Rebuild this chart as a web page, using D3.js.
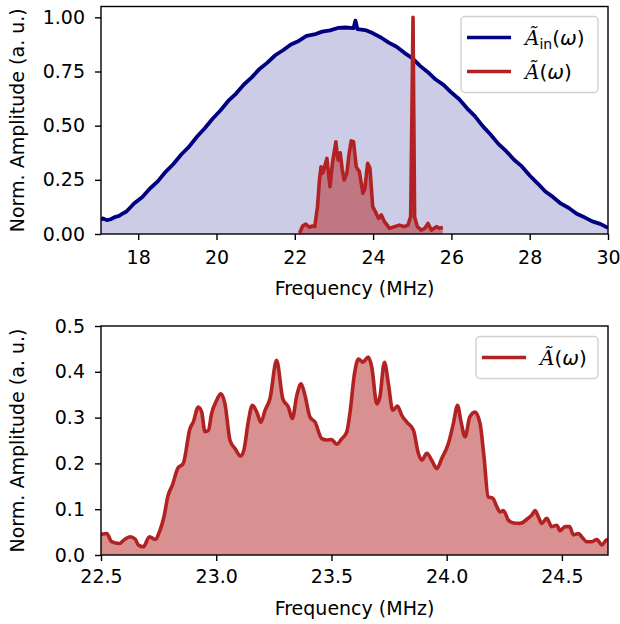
<!DOCTYPE html>
<html><head><meta charset="utf-8">
<script src="https://cdn.jsdelivr.net/npm/d3@7"></script>
<style>body{margin:0;background:#fff}svg{display:block}text{font-family:"DejaVu Sans",sans-serif;fill:#000}</style>
</head><body><svg id="c" width="620" height="624"></svg>
<script>
// ---- data ----
const inFreq = [17.05,17.1,17.2,17.3,17.4,17.5,17.6,17.7,17.9,18.1,18.3,18.5,18.7,18.9,19.1,19.3,19.5,19.7,19.9,20.1,20.3,20.5,20.7,20.9,21.1,21.3,21.5,21.7,21.9,22.1,22.3,22.5,22.7,22.9,23.1,23.3,23.5,23.55,23.6,23.8,24.0,24.2,24.4,24.6,24.8,25.0,25.2,25.4,25.6,25.8,26.0,26.2,26.4,26.6,26.8,27.0,27.2,27.4,27.6,27.8,28.0,28.2,28.4,28.6,28.8,29.0,29.2,29.4,29.6,29.8,30.0];
const inAmp  = [0.066,0.072,0.064,0.068,0.078,0.083,0.094,0.104,0.142,0.170,0.210,0.243,0.287,0.323,0.367,0.403,0.449,0.488,0.532,0.570,0.614,0.648,0.690,0.723,0.762,0.791,0.825,0.848,0.875,0.891,0.914,0.921,0.934,0.940,0.951,0.953,0.950,0.985,0.946,0.941,0.926,0.907,0.883,0.864,0.836,0.812,0.776,0.747,0.713,0.688,0.653,0.622,0.580,0.544,0.498,0.459,0.416,0.382,0.343,0.312,0.270,0.234,0.196,0.170,0.140,0.120,0.093,0.077,0.058,0.047,0.028];

const topRedFreq = [22.12,22.14,22.20,22.28,22.37,22.45,22.51,22.58,22.63,22.67,22.71,22.75,22.82,22.86,22.90,22.96,23.05,23.08,23.11,23.16,23.21,23.26,23.33,23.38,23.44,23.50,23.57,23.65,23.74,23.79,23.86,23.92,23.99,24.08,24.14,24.21,24.29,24.42,24.55,24.67,24.80,24.89,24.96,25.02,25.06,25.13,25.23,25.32,25.40,25.49,25.62,25.70,25.78];
const topRedAmp  = [0.004,0.011,0.037,0.046,0.031,0.037,0.034,0.126,0.250,0.310,0.280,0.303,0.349,0.280,0.218,0.326,0.426,0.370,0.341,0.375,0.300,0.249,0.280,0.360,0.430,0.426,0.310,0.287,0.188,0.210,0.326,0.303,0.126,0.095,0.072,0.088,0.057,0.026,0.034,0.041,0.034,0.041,0.080,1.000,0.080,0.034,0.018,0.026,0.049,0.018,0.034,0.026,0.031];

const redFreq = [22.48,22.50,22.525,22.546,22.58,22.60,22.626,22.648,22.662,22.684,22.71,22.734,22.756,22.773,22.79,22.81,22.833,22.857,22.886,22.90,22.922,22.937,22.951,22.966,22.98,23.002,23.02,23.038,23.06,23.082,23.106,23.12,23.14,23.157,23.176,23.194,23.212,23.233,23.262,23.289,23.313,23.33,23.35,23.368,23.385,23.407,23.429,23.458,23.48,23.50,23.523,23.545,23.566,23.58,23.60,23.617,23.636,23.66,23.675,23.697,23.71,23.73,23.747,23.766,23.786,23.805,23.827,23.856,23.877,23.892,23.914,23.935,23.957,23.979,24.007,24.029,24.047,24.061,24.08,24.10,24.123,24.145,24.162,24.18,24.20,24.218,24.232,24.246,24.268,24.29,24.318,24.348,24.369,24.384,24.398,24.413,24.434,24.456,24.478,24.492,24.514,24.533,24.55,24.572,24.586,24.608,24.63,24.652,24.673,24.695,24.72];
const redAmp  = [0.042,0.045,0.047,0.029,0.025,0.033,0.040,0.035,0.022,0.018,0.040,0.034,0.054,0.083,0.128,0.153,0.189,0.200,0.276,0.290,0.323,0.312,0.269,0.272,0.309,0.338,0.352,0.330,0.250,0.232,0.216,0.229,0.294,0.327,0.312,0.290,0.316,0.341,0.425,0.341,0.323,0.298,0.349,0.374,0.349,0.301,0.290,0.254,0.251,0.252,0.242,0.254,0.268,0.309,0.396,0.428,0.421,0.432,0.410,0.330,0.345,0.421,0.374,0.316,0.325,0.305,0.290,0.272,0.222,0.207,0.222,0.207,0.189,0.211,0.243,0.287,0.327,0.294,0.258,0.301,0.312,0.287,0.214,0.127,0.124,0.105,0.094,0.097,0.076,0.070,0.069,0.078,0.087,0.097,0.083,0.069,0.080,0.062,0.065,0.053,0.062,0.062,0.044,0.047,0.040,0.029,0.029,0.034,0.022,0.033,0.030];

const topXTicks = [18,20,22,24,26,28,30];
const topYTicks = [0,0.25,0.5,0.75,1.0];
const botXTicks = [22.5,23.0,23.5,24.0,24.5];
const botYTicks = [0,0.1,0.2,0.3,0.4,0.5];

const NAVY = "#000080", RED = "#b22222";
const svg = d3.select("#c");
const L = 101, R = 608, FS = 19;

function panel(cfg){
  const x = d3.scaleLinear().domain(cfg.xd).range([L,R]);
  const y = d3.scaleLinear().domain(cfg.yd).range([cfg.bottom,cfg.top]);
  const clipId = "clip"+cfg.id;
  svg.append("clipPath").attr("id",clipId).append("rect")
    .attr("x",L).attr("y",cfg.top).attr("width",R-L).attr("height",cfg.bottom-cfg.top);
  const g = svg.append("g").attr("clip-path",`url(#${clipId})`);
  cfg.series.forEach(s=>{
    const pts = s.f.map((f,i)=>[f,s.a[i]]);
    g.append("path").datum(pts)
      .attr("d",d3.area().x(d=>x(d[0])).y0(y(0)).y1(d=>y(d[1])).curve(s.curve))
      .attr("fill",s.color).attr("fill-opacity",s.alpha);
    g.append("path").datum(pts)
      .attr("d",d3.line().x(d=>x(d[0])).y(d=>y(d[1])).curve(s.curve))
      .attr("fill","none").attr("stroke",s.color).attr("stroke-width",s.lw).attr("stroke-linejoin","round");
  });
  const xa = svg.append("g").attr("transform",`translate(0,${cfg.bottom})`)
    .call(d3.axisBottom(x).tickValues(cfg.xt).tickFormat(cfg.xf).tickSize(6).tickPadding(cfg.xpad));
  const ya = svg.append("g").attr("transform",`translate(${L},0)`)
    .call(d3.axisLeft(y).tickValues(cfg.yt).tickFormat(cfg.yf).tickSize(6).tickPadding(10));
  [xa,ya].forEach(a=>{
    a.select(".domain").remove();
    a.selectAll("line").attr("stroke","#000").attr("stroke-width",1.4);
    a.selectAll("text").attr("font-size",FS).attr("font-family","DejaVu Sans").attr("fill","#000");
  });
  svg.append("rect").attr("x",L).attr("y",cfg.top).attr("width",R-L).attr("height",cfg.bottom-cfg.top)
    .attr("fill","none").attr("stroke","#000").attr("stroke-width",1.4);
  svg.append("text").attr("x",(L+R)/2).attr("y",cfg.bottom+cfg.lab).attr("text-anchor","middle")
    .attr("font-size",FS).text("Frequency (MHz)");
  svg.append("text").attr("transform",`translate(24,${(cfg.top+cfg.bottom)/2}) rotate(-90)`)
    .attr("text-anchor","middle").attr("font-size",FS).text("Norm. Amplitude (a. u.)");
  return {x,y};
}

panel({id:1, xd:[17.05,30], yd:[0,1.05], top:6.5, bottom:234, xpad:11, lab:61,
  xt:topXTicks, yt:topYTicks, xf:d3.format("d"), yf:d3.format(".2f"),
  series:[
    {f:inFreq,a:inAmp,color:NAVY,alpha:0.2,lw:3.8,curve:d3.curveLinear},
    {f:topRedFreq,a:topRedAmp,color:RED,alpha:0.5,lw:3.6,curve:d3.curveLinear}
  ]});
panel({id:2, xd:[22.5,24.7], yd:[0,0.5], top:326, bottom:555, xpad:9, lab:60,
  xt:botXTicks, yt:botYTicks, xf:d3.format(".1f"), yf:d3.format(".1f"),
  series:[
    {f:redFreq,a:redAmp,color:RED,alpha:0.5,lw:3.6,curve:d3.curveMonotoneX}
  ]});

function legendLabel(t, sub){
  t.append("tspan").attr("font-style","italic").attr("font-family","DejaVu Serif").text("Ã");
  if(sub){ t.append("tspan").attr("font-size",14).attr("dy",4).text("in");
           t.append("tspan").attr("dy",-4).text("("); }
  else t.append("tspan").text("(");
  t.append("tspan").attr("font-style","italic").text("ω");
  t.append("tspan").text(")");
}
function legend(x0,y0,w,h,items){
  const g = svg.append("g");
  g.append("rect").attr("x",x0).attr("y",y0).attr("width",w).attr("height",h).attr("rx",4)
    .attr("fill","#fff").attr("fill-opacity",0.8).attr("stroke","#d0d0d0").attr("stroke-width",1.4);
  items.forEach((it,i)=>{
    const cy = y0 + 21 + i*34;
    g.append("line").attr("x1",x0+6).attr("x2",x0+50).attr("y1",cy).attr("y2",cy)
      .attr("stroke",it.color).attr("stroke-width",3.6);
    const t = g.append("text").attr("x",x0+64).attr("y",cy+7).attr("font-size",20);
    legendLabel(t,it.sub);
  });
}
legend(461,16.5,137,76,[{color:NAVY,sub:true},{color:RED,sub:false}]);
legend(476,336.5,122,42,[{color:RED,sub:false}]);
</script></body></html>
